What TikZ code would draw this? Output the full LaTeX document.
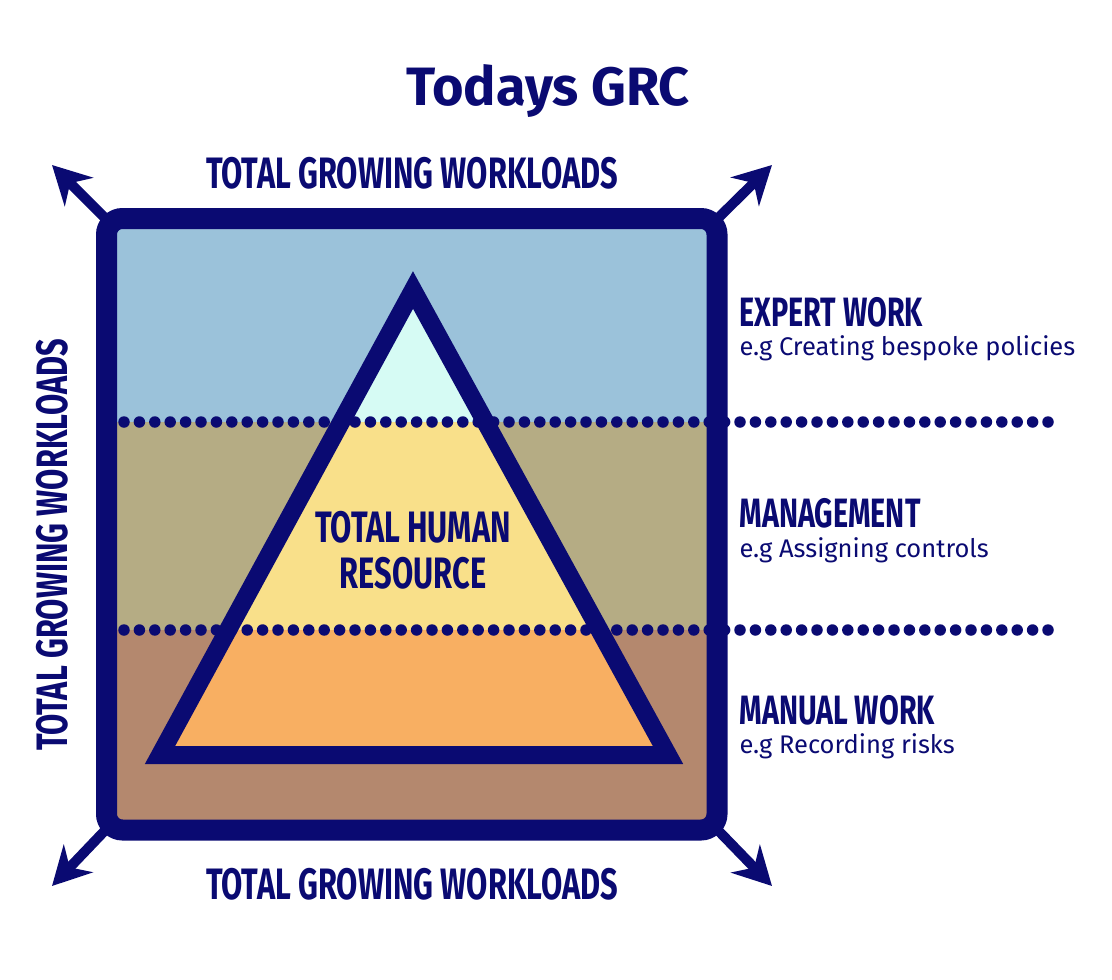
\documentclass[tikz,border=0pt]{standalone}
\usepackage{fontspec}
\setmainfont{Fira Sans}
\newfontfamily\cond[FakeStretch=0.7]{Fira Sans}
\usetikzlibrary{arrows.meta}
\definecolor{navy}{HTML}{0A0A72}
\definecolor{bblue}{HTML}{9BC2DA}
\definecolor{bolive}{HTML}{B5AC84}
\definecolor{bbrown}{HTML}{B4886E}
\definecolor{tcyan}{HTML}{D6FBF4}
\definecolor{tyel}{HTML}{F9E08A}
\definecolor{torange}{HTML}{F8AF62}
\begin{document}
\begin{tikzpicture}[x=1pt,y=-1pt,
  big/.style={text=navy,font=\cond\bfseries\fontsize{44}{46}\selectfont},
  head/.style={text=navy,font=\cond\bfseries\fontsize{41}{44}\selectfont,anchor=west},
  sub/.style={text=navy,font=\fontsize{25.5}{28}\selectfont,anchor=west},
  arr/.style={navy,line width=10pt,-{Stealth[length=38pt,width=40pt]}},
  dots/.style={navy,line width=11.5pt,line cap=round,dash pattern=on 0pt off 15.4pt}]
\useasboundingbox (0,0) rectangle (1112,980);
% bands
\begin{scope}
\clip[rounded corners=14pt] (106,218) rectangle (717,830);
\fill[bblue] (100,210) rectangle (720,422);
\fill[bolive] (100,422) rectangle (720,630);
\fill[bbrown] (100,630) rectangle (720,835);
\end{scope}
% triangle fills
\begin{scope}
\clip (413,290) -- (160,755) -- (668,755) -- cycle;
\fill[tcyan] (100,250) rectangle (720,422);
\fill[tyel] (100,422) rectangle (720,630);
\fill[torange] (100,630) rectangle (720,770);
\end{scope}
% dotted lines
\draw[dots] (124,422) -- (1055,422);
\draw[dots] (124,630) -- (1055,630);
% triangle outline
\draw[navy,line width=18pt,line join=miter,miter limit=20] (413,290) -- (160,755) -- (668,755) -- cycle;
% frame
\draw[navy,line width=21pt,rounded corners=16pt] (106.5,218.5) rectangle (717,830);
% arrows
\coordinate (c1) at (115,228); \coordinate (t1) at (52,165);
\coordinate (c2) at (708,228); \coordinate (t2) at (772,165);
\coordinate (c3) at (115,820); \coordinate (t3) at (52,886);
\coordinate (c4) at (708,820); \coordinate (t4) at (772,886);
\draw[arr] (c1) -- (t1);
\draw[arr] (c2) -- (t2);
\draw[arr] (c3) -- (t3);
\draw[arr] (c4) -- (t4);
% texts
\node[text=navy,font=\bfseries\fontsize{54}{56}\selectfont] (title) at (548,91) {Todays GRC};
\node[big] (top) at (412,173) {TOTAL GROWING WORKLOADS};
\node[big] (bot) at (412,884) {TOTAL GROWING WORKLOADS};
\node[big,rotate=90] (left) at (52,545) {TOTAL GROWING WORKLOADS};
\node[big,align=center,font=\cond\bfseries\fontsize{44}{46}\selectfont] (thr) at (413,550) {TOTAL HUMAN\\RESOURCE};
\node[head] (e1) at (736,312) {EXPERT WORK};
\node[sub] (e2) at (736,348) {e.g Creating bespoke policies};
\node[head] (m1) at (736,513) {MANAGEMENT};
\node[sub] (m2) at (736,550) {e.g Assigning controls};
\node[head] (w1) at (736,710) {MANUAL WORK};
\node[sub] (w2) at (736,746) {e.g Recording risks};
\end{tikzpicture}
\end{document}
